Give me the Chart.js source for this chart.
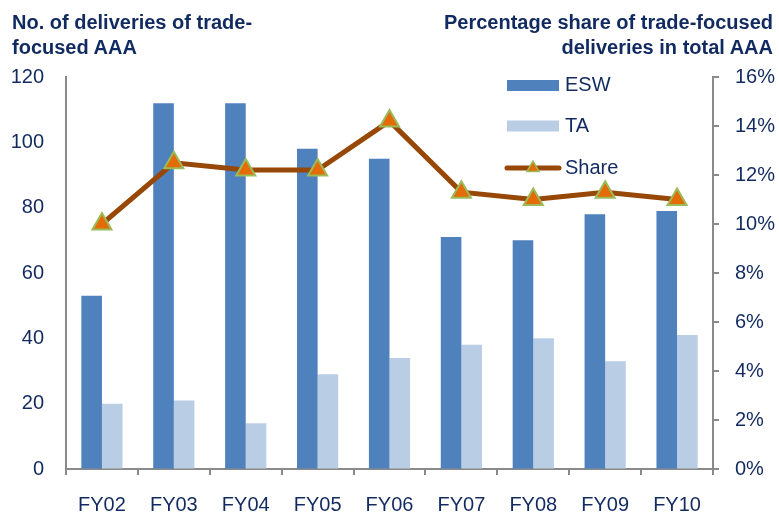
<!DOCTYPE html>
<html>
<head>
<meta charset="utf-8">
<script src="https://cdn.jsdelivr.net/npm/chart.js@4"></script>
<style>
  html, body { margin: 0; padding: 0; background: #ffffff; }
  #wrap { position: relative; width: 779px; height: 517px; }
  canvas { position: absolute; left: 0; top: 0; }
  .ttl { position: absolute; font-family: "Liberation Sans", Arial, sans-serif; font-weight: bold;
         font-size: 20px; line-height: 25px; color: #112a5f; white-space: nowrap; }
  #tl { left: 12px; top: 10px; text-align: left; }
  #tr { right: 6px; top: 10px; text-align: right; }
</style>
</head>
<body>
<div id="wrap">
  <canvas id="c" width="779" height="517"></canvas>
  <div class="ttl" id="tl">No. of deliveries of trade-<br>focused AAA</div>
  <div class="ttl" id="tr">Percentage share of trade-focused<br>deliveries in total AAA</div>
</div>
<script>
const categories = ["FY02","FY03","FY04","FY05","FY06","FY07","FY08","FY09","FY10"];
const eswValues = [53, 112, 112, 98, 95, 71, 70, 78, 79];
const taValues = [20, 21, 14, 29, 34, 38, 40, 33, 41];
const shareValues = [10.0, 12.5, 12.2, 12.2, 14.2, 11.3, 11.0, 11.3, 11.0];
const seriesNames = ["ESW", "TA", "Share"];

const NAVY = "#112a5f";
const AXIS = "#8a8a8a";
const FONT = "'Liberation Sans', Arial, sans-serif";

const legendPlugin = {
  id: "inlineLegend",
  afterDraw(chart) {
    const ctx = chart.ctx;
    const ds = chart.data.datasets;
    const x0 = 507, x1 = 559, tx = 565;
    const ys = [85.5, 126, 168];
    ctx.save();
    ctx.font = "20px " + FONT;
    ctx.textBaseline = "middle";
    ctx.textAlign = "left";
    ds.forEach((d, i) => {
      const y = ys[i];
      if (d.type === "line") {
        ctx.strokeStyle = d.borderColor;
        ctx.lineWidth = 5;
        ctx.lineCap = "round";
        ctx.beginPath(); ctx.moveTo(x0, y); ctx.lineTo(x1, y); ctx.stroke();
        const r = 7, cx = (x0 + x1) / 2;
        ctx.beginPath();
        for (let k = 0; k < 3; k++) {
          const a = k * 2 * Math.PI / 3;
          const px = cx + Math.sin(a) * r, py = y - Math.cos(a) * r;
          if (k === 0) ctx.moveTo(px, py); else ctx.lineTo(px, py);
        }
        ctx.closePath();
        ctx.fillStyle = d.pointBackgroundColor; ctx.fill();
        ctx.strokeStyle = d.pointBorderColor; ctx.lineWidth = 1.5; ctx.lineCap = "butt"; ctx.stroke();
      } else {
        ctx.fillStyle = d.backgroundColor;
        ctx.fillRect(x0, y - 5.5, x1 - x0, 11);
      }
      ctx.fillStyle = NAVY;
      ctx.fillText(d.label, tx, y);
    });
    ctx.restore();
  }
};

new Chart(document.getElementById("c"), {
  data: {
    labels: categories,
    datasets: [
      {
        type: "bar", label: seriesNames[0], data: eswValues, yAxisID: "y", order: 1,
        backgroundColor: "#4f81bd", borderWidth: 0,
        categoryPercentage: 0.573, barPercentage: 1.0
      },
      {
        type: "bar", label: seriesNames[1], data: taValues, yAxisID: "y", order: 2,
        backgroundColor: "#b9cde5", borderWidth: 0,
        categoryPercentage: 0.573, barPercentage: 1.0
      },
      {
        type: "line", label: seriesNames[2], data: shareValues, yAxisID: "y1", order: 0,
        borderColor: "#974706", borderWidth: 5, tension: 0, fill: false,
        pointStyle: "triangle", pointRadius: 11, pointHoverRadius: 11,
        pointBackgroundColor: "#e36c09", pointBorderColor: "#9bbb59", pointBorderWidth: 2
      }
    ]
  },
  options: {
    responsive: false,
    animation: false,
    devicePixelRatio: 1,
    layout: { padding: { top: 77, left: 0, right: 0, bottom: 0 } },
    plugins: { legend: { display: false }, tooltip: { enabled: false } },
    scales: {
      x: {
        offset: true,
        grid: { display: true, offset: true, drawOnChartArea: false, tickLength: 6, color: AXIS, lineWidth: 2 },
        border: { display: true, color: AXIS, width: 2 },
        ticks: { color: NAVY, font: { family: FONT, size: 20 }, padding: 18, maxRotation: 0 },
        afterFit(s) { s.height = 48; }
      },
      y: {
        position: "left", min: 0, max: 120,
        ticks: { stepSize: 20, color: NAVY, font: { family: FONT, size: 20 }, padding: 22 },
        grid: { drawOnChartArea: false, drawTicks: false },
        border: { display: true, color: AXIS, width: 2 },
        afterFit(s) { s.width = 66; }
      },
      y1: {
        position: "right", min: 0, max: 16,
        ticks: { stepSize: 2, color: NAVY, font: { family: FONT, size: 20 }, padding: 16,
                 callback: v => v + "%" },
        grid: { drawOnChartArea: false, tickLength: 6, color: AXIS, lineWidth: 2 },
        border: { display: true, color: AXIS, width: 2 },
        afterFit(s) { s.width = 66; }
      }
    }
  },
  plugins: [legendPlugin]
});
</script>
</body>
</html>
